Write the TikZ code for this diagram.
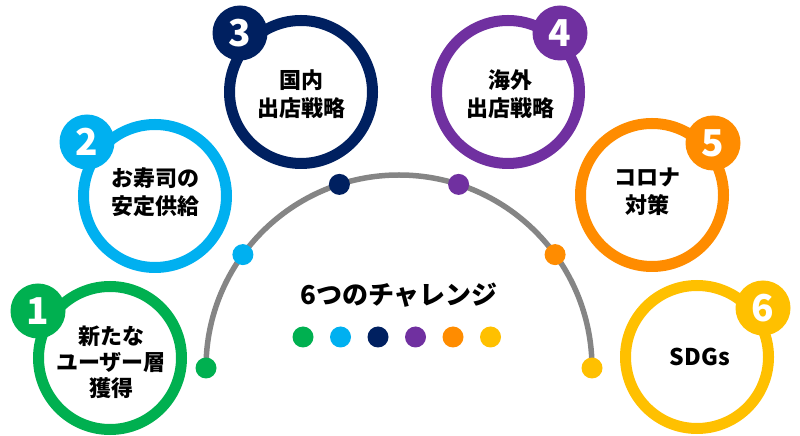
\documentclass[tikz,border=0pt]{standalone}
\usepackage{fontspec}
\setmainfont{Noto Sans CJK JP}
\definecolor{cgreen}{HTML}{00B050}
\definecolor{cblue}{HTML}{00B0F0}
\definecolor{cnavy}{HTML}{002060}
\definecolor{cpurple}{HTML}{7030A0}
\definecolor{corange}{HTML}{FF8C00}
\definecolor{cyellow}{HTML}{FFC000}
\definecolor{cgrey}{HTML}{858585}
\begin{document}
\begin{tikzpicture}[x=1pt,y=1pt,
  ring/.style={circle,draw=#1,line width=11pt,fill=white,minimum size=143pt,inner sep=0pt},
  badge/.style={circle,fill=#1,minimum size=55pt,inner sep=0pt,text=white,font=\fontsize{37}{37}\selectfont\bfseries},
  lbl/.style={align=center,font=\fontsize{22}{28}\selectfont\bfseries,text=black},
  dot/.style={circle,fill=#1,minimum size=21pt,inner sep=0pt}]
\useasboundingbox (0,0) rectangle (800,436);
% arc
\coordinate (c) at (399,68);
\draw[cgrey,line width=5.5pt] (206,68) arc (180:0:193);
\node[dot=cgreen]  (d1) at (206,68) {};
\node[dot=cblue]   (d2) at (242.9,181.4) {};
\node[dot=cnavy]   (d3) at (339.4,251.6) {};
\node[dot=cpurple] (d4) at (458.6,251.6) {};
\node[dot=corange] (d5) at (555.1,181.4) {};
\node[dot=cyellow] (d6) at (592,68) {};
% title
\node[font=\fontsize{26}{30}\selectfont\bfseries] (title) at (399,141) {6つのチャレンジ};
\node[dot=cgreen]  (s1) at (303,99) {};
\node[dot=cblue]   (s2) at (340.5,99) {};
\node[dot=cnavy]   (s3) at (378,99) {};
\node[dot=cpurple] (s4) at (415.5,99) {};
\node[dot=corange] (s5) at (453,99) {};
\node[dot=cyellow] (s6) at (490.5,99) {};
% rings
\node[ring=cgreen]  (r1) at (110,78) {};
\node[ring=cblue]   (r2) at (155,240) {};
\node[ring=cnavy]   (r3) at (301,344) {};
\node[ring=cpurple] (r4) at (508,344) {};
\node[ring=corange] (r5) at (652,241) {};
\node[ring=cyellow] (r6) at (697,79) {};
% labels
\node[lbl,font=\fontsize{22}{26}\selectfont\bfseries] (t1) at (111,74) {新たな\\ユーザー層\\獲得};
\node[lbl] (t2) at (155,244) {お寿司の\\安定供給};
\node[lbl] (t3) at (301,342) {国内\\出店戦略};
\node[lbl] (t4) at (510,342) {海外\\出店戦略};
\node[lbl] (t5) at (647,244) {コロナ\\対策};
\node[lbl,font=\fontsize{23}{28}\selectfont\bfseries] (t6) at (700,79) {SDGs};
% badges
\node[badge=cgreen]  (b1) at (38,125) {1};
\node[badge=cblue]   (b2) at (87,294) {2};
\node[badge=cnavy]   (b3) at (240,403) {3};
\node[badge=cpurple] (b4) at (560,403) {4};
\node[badge=corange] (b5) at (713,293) {5};
\node[badge=cyellow] (b6) at (763,128) {6};
\end{tikzpicture}
\end{document}
